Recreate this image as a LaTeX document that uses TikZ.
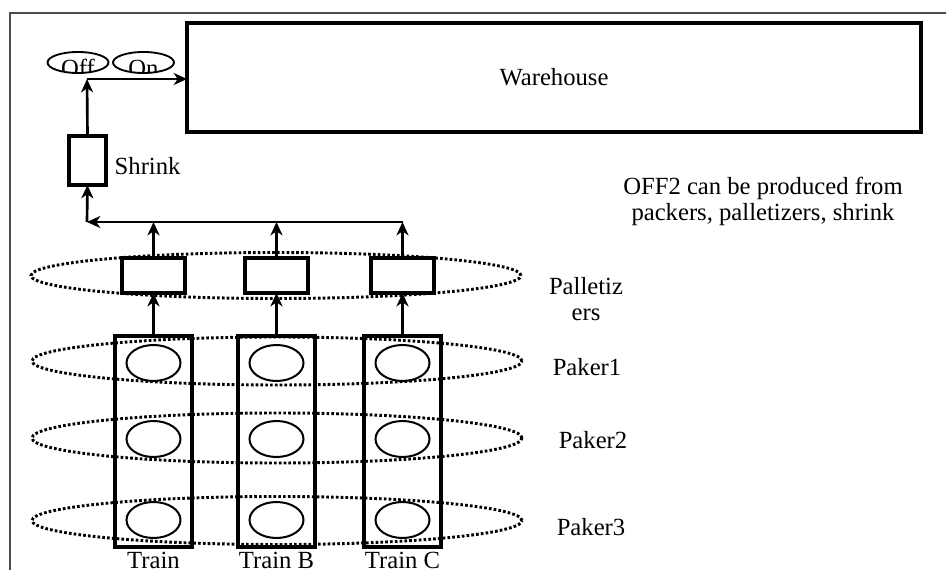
\documentclass[tikz,border=0pt]{standalone}
\usepackage{fontspec}
\setmainfont{Liberation Serif}
\usetikzlibrary{arrows.meta,shapes.geometric}
\newcommand{\px}{0.75pt}

\begin{document}
\begin{tikzpicture}[x=0.75pt,y=-0.75pt,font=\fontsize{18.5}{19.5}\selectfont,
  box/.style={draw,line width=2.4pt,inner sep=0pt,outer sep=0pt},
  unit/.style={draw,ellipse,line width=1.5pt,minimum width=54*\px,minimum height=36*\px,inner sep=0pt},
  ring/.style={draw,ellipse,line width=2.2pt,dash pattern=on 2pt off 1.6pt,minimum width=490*\px,inner sep=0pt},
  tag/.style={draw,ellipse,line width=1.4pt,minimum width=61*\px,minimum height=21*\px,inner sep=0pt},
  arr/.style={-{Stealth[length=10pt,width=9pt,inset=3pt]},line width=2pt}]
  \useasboundingbox (0,0) rectangle (946,570);
  \clip (0,0) rectangle (946,570);
  % frame
  \draw[line width=1.2pt,black!70] (960,13) -- (10,13) -- (10,590);

  \node[box,minimum width=734*\px,minimum height=109*\px] (wh) at (554,77.5) {Warehouse};
  \node[tag,path picture={\node[anchor=base] (offtxt) at ([yshift=-3pt]path picture bounding box.south) {Off};}] (off) at (78,62.5) {};
  \node[tag,path picture={\node[anchor=base] (ontxt) at ([yshift=-3pt]path picture bounding box.south) {On};}] (on) at (143.5,62.5) {};

  \node[box,minimum width=37*\px,minimum height=49*\px] (shrink) at (87.5,160.5) {};
  \node[anchor=base west] (shrinklbl) at (110,175) {Shrink};
  \node[align=center] (note) at (763,201) {OFF2 can be produced from\\packers, palletizers, shrink};

  % rings
  \node[ring,minimum height=46*\px] (ringpal) at (276,275.5) {};
  \node[ring,minimum height=48*\px] (ring1) at (277,361) {};
  \node[ring,minimum height=50*\px] (ring2) at (277,438) {};
  \node[ring,minimum height=48*\px] (ring3) at (277,520.5) {};
  \node[align=center] (pallbl) at (586,299) {Palletiz\\ers};
  \node[anchor=base] (lbl1) at (587,375) {Paker1};
  \node[anchor=base] (lbl2) at (593,448) {Paker2};
  \node[anchor=base] (lbl3) at (591,535) {Paker3};

  % trains
  \foreach \t/\x/\lab in {a/153.5/Train,b/276.5/Train B,c/402.5/Train C} {
    \node[box,minimum width=77*\px,minimum height=211*\px] (t\t) at (\x,441.5) {};
    \node[box,minimum width=63*\px,minimum height=35*\px] (pal\t) at (\x,275.5) {};
    \node[unit] (u1\t) at (\x,363) {};
    \node[unit] (u2\t) at (\x,439) {};
    \node[unit] (u3\t) at (\x,520) {};
    \node[anchor=base] (tl\t) at (\x,568) {\lab};
    \draw[arr] (t\t.north) -- (pal\t.south);
  }

  \coordinate (busL) at (87,222);
  \coordinate (busR) at (402.5,222);
  \coordinate (turn) at (87,79);
  \foreach \t in {a,b,c} {
    \draw[arr] (pal\t.north) -- (pal\t.north |- busL);
  }
  \draw[line width=2pt] (busR) -- (pala.north |- busL);
  \draw[arr] (pala.north |- busL) -- (busL);
  \draw[arr] (busL) -- (shrink.south);
  \draw[arr] (shrink.north) -- (turn);
  \draw[arr] (turn) -- (turn -| wh.west);
\end{tikzpicture}
\end{document}
